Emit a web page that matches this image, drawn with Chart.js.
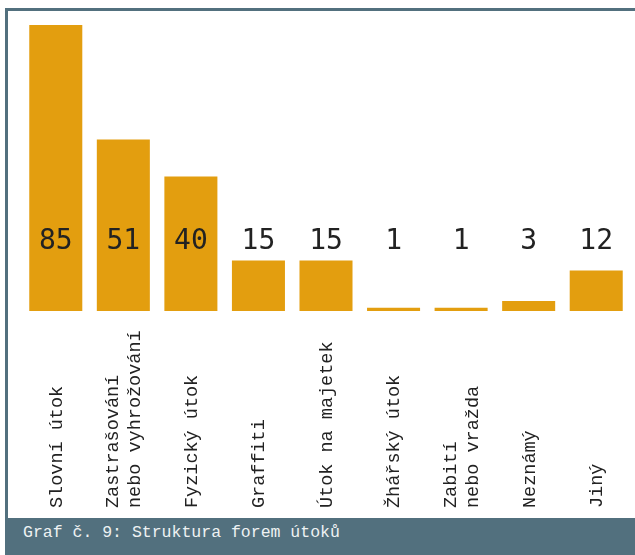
<!DOCTYPE html>
<html>
<head>
<meta charset="utf-8">
<script src="https://cdn.jsdelivr.net/npm/chart.js@4"></script>
<style>
  html, body { margin: 0; padding: 0; background: #fff; width: 635px; height: 555px; overflow: hidden; }
  #frame { position: absolute; left: 5px; top: 8px; width: 640px; height: 560px;
           border-left: 3px solid #52707e; border-top: 3px solid #52707e; box-sizing: border-box; }
  #wrap { position: absolute; left: 0; top: 0; width: 635px; height: 518px; }
  #band { position: absolute; left: 5px; top: 518px; width: 630px; height: 37px; background: #52707e;
          color: #eef2f3; font-family: "Liberation Mono", monospace; font-size: 16.5px; line-height: 30px;
          padding-left: 18px; box-sizing: border-box; white-space: pre; }
</style>
</head>
<body>
<div id="frame"></div>
<div id="wrap"><canvas id="chart"></canvas></div>
<div id="band">Graf č. 9: Struktura forem útoků</div>
<script>
// kategorie (řádky popisku) a hodnoty
const categories = [
    ['Slovní útok'],
    ['Zastrašování', 'nebo vyhrožování'],
    ['Fyzický útok'],
    ['Graffiti'],
    ['Útok na majetek'],
    ['Žhářský útok'],
    ['Zabití', 'nebo vražda'],
    ['Neznámý'],
    ['Jiný']
];
const counts = [85, 51, 40, 15, 15, 1, 1, 3, 12];
const barColor = '#e39e0f';

// vlastní popisky: hodnoty v pevné výšce a svislé názvy kategorií
const labelsPlugin = {
    id: 'labelsPlugin',
    afterDatasetsDraw(chart) {
        const ctx = chart.ctx;
        const x = chart.scales.x;
        const y = chart.scales.y;
        ctx.save();
        ctx.fillStyle = '#222';
        ctx.font = '28px "DejaVu Sans Mono"';
        ctx.textAlign = 'center';
        ctx.textBaseline = 'middle';
        const valY = y.getPixelForValue(20.5);
        counts.forEach((v, i) => {
            ctx.fillText(String(v), x.getPixelForValue(i), valY);
        });

        ctx.font = '18.5px "Liberation Mono"';
        ctx.textAlign = 'left';
        ctx.textBaseline = 'middle';
        const startY = y.getPixelForValue(0) + 197;
        const lineGap = 22;
        categories.forEach((lines, i) => {
            const cx = x.getPixelForValue(i);
            lines.forEach((t, j) => {
                const off = (j - (lines.length - 1) / 2) * lineGap;
                ctx.save();
                ctx.translate(cx + off + 1, startY);
                ctx.rotate(-Math.PI / 2);
                ctx.fillText(t, 0, 0);
                ctx.restore();
            });
        });
        ctx.restore();
    }
};

new Chart(document.getElementById('chart'), {
    type: 'bar',
    data: {
        labels: categories.map(c => c.join(' ')),
        datasets: [{
            data: counts,
            backgroundColor: barColor,
            categoryPercentage: 1,
            barPercentage: 0.785
        }]
    },
    options: {
        responsive: true,
        maintainAspectRatio: false,
        animation: false,
        layout: { padding: { left: 22, right: 5, top: 25, bottom: 207 } },
        scales: {
            x: { display: false },
            y: { display: false, min: 0, max: 85 }
        },
        plugins: { legend: { display: false }, tooltip: { enabled: false } }
    },
    plugins: [labelsPlugin]
});
</script>
</body>
</html>
